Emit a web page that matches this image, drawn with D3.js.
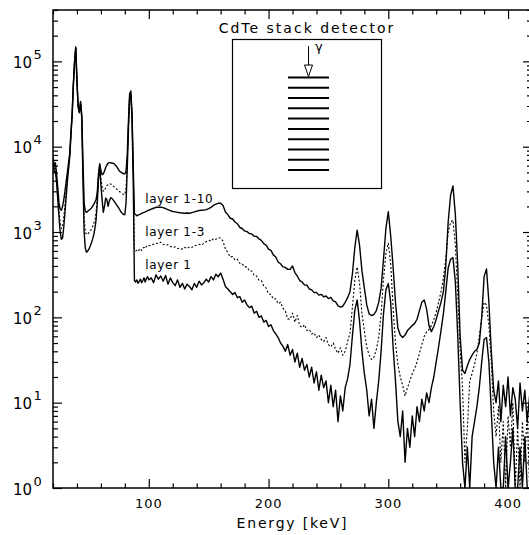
<!DOCTYPE html>
<html>
<head>
<meta charset="utf-8">
<script src="https://cdn.jsdelivr.net/npm/d3@7"></script>
<style>
  body { margin: 0; background: #fff; }
  svg { display: block; font-family: "DejaVu Sans", sans-serif; }
</style>
</head>
<body>
<div id="box-div"></div>
<script>
// energy channels (keV)
const energyLow = [20, 21, 22, 23, 24, 25, 26, 27, 28, 29, 30, 31, 32, 33, 34, 35, 36, 37, 38, 39,
  40, 41, 42, 43, 44, 45, 46, 47, 48, 49, 50, 51, 52, 53, 54, 55, 56, 57, 58, 59,
  60, 61, 62, 63, 64, 65, 66, 67, 68, 69, 70, 71, 72, 73, 74, 75, 76, 77, 78, 79,
  80, 81, 82, 83, 84, 85, 86, 87, 88, 89, 90, 91, 92, 93, 94, 95, 96, 97, 98, 99, 100]
const energyHigh = [102, 104, 106, 108, 110, 112, 114, 116, 118, 120, 122, 124, 126, 128, 130, 132, 134, 136, 138, 140,
  142, 144, 146, 148, 150, 152, 154, 156, 158, 160, 162, 164, 166, 168, 170, 172, 174, 176, 178, 180,
  182, 184, 186, 188, 190, 192, 194, 196, 198, 200, 202, 204, 206, 208, 210, 212, 214, 216, 218, 220,
  222, 224, 226, 228, 230, 232, 234, 236, 238, 240, 242, 244, 246, 248, 250, 252, 254, 256, 258, 260,
  262, 264, 266, 268, 270, 272, 274, 276, 278, 280, 282, 284, 286, 288, 290, 292, 294, 296, 298, 300,
  302, 304, 306, 308, 310, 312, 314, 316, 318, 320, 322, 324, 326, 328, 330, 332, 334, 336, 338, 340,
  342, 344, 346, 348, 350, 352, 354, 356, 358, 360, 362, 364, 366, 368, 370, 372, 374, 376, 378, 380,
  382, 384, 386, 388, 390, 392, 394, 396, 398, 400, 402, 404, 406, 408, 410, 412, 414, 416, 418, 420]

// counts, layer 1-10
const layer1to10 = [7500, 5800, 6500, 4800, 3300, 2200, 1850, 1800, 2000, 2400,
  3000, 3900, 5000, 6500, 8500, 15000, 25000, 55000, 100000, 148000,
  60000, 30000, 26000, 34000, 24000, 7000, 2200, 1750, 1700, 1750,
  1800, 1850, 1900, 2000, 2100, 2250, 2400, 3000, 4800, 6300,
  5300, 4700, 4800, 5200, 5700, 6100, 6400, 6500, 6500, 6400,
  6400, 6300, 6100, 5900, 5600, 5300, 5100, 5000, 4900, 4800,
  4800, 5200, 8000, 20000, 42000, 45000, 25000, 6000, 1650, 1600,
  1550, 1580, 1600, 1620, 1650, 1680, 1700, 1720, 1750, 1780, 1800,
  1850, 1900, 1950, 1960, 1950, 1930, 1880, 1830, 1780, 1740,
  1720, 1700, 1680, 1670, 1660, 1670, 1660, 1690, 1720, 1750,
  1790, 1800, 1810, 1830, 1880, 1950, 2050, 2120, 2170, 2180,
  2050, 1720, 1600, 1450, 1420, 1310, 1250, 1130, 1100, 1030,
  1010, 960, 950, 890, 890, 830, 800, 730, 700, 630,
  610, 540, 510, 445, 425, 390, 385, 365, 365, 400,
  335, 305, 270, 260, 240, 238, 215, 210, 195, 196,
  182, 186, 174, 178, 166, 171, 156, 152, 136, 132,
  135, 150, 170, 200, 320, 650, 1050, 700, 350, 220,
  140, 110, 105, 108, 120, 150, 220, 480, 1100, 1730,
  900, 390, 150, 75, 62, 58, 62, 70, 75, 80,
  85, 95, 120, 150, 160, 125, 80, 68, 78, 95,
  120, 150, 200, 400, 1300, 2700, 3470, 1600, 400, 60,
  24, 22, 27, 32, 36, 40, 42, 50, 100, 300,
  370, 150, 40, 14, 10, 18, 6, 16, 9, 20,
  7, 15, 11, 5, 17, 8, 14, 6, 12, 9]

// counts, layer 1-3
const layer1to3 = [7000, 5500, 5800, 4200, 2800, 1800, 1300, 1100, 1150, 1500,
  2100, 3000, 4300, 5900, 8000, 14000, 24000, 54000, 98000, 146000,
  59000, 29500, 25500, 33000, 23000, 5000, 1500, 1000, 930, 950,
  980, 1020, 1080, 1150, 1250, 1400, 1700, 2500, 4500, 6100,
  4200, 3400, 3000, 3100, 3300, 3500, 3600, 3700, 3650, 3600,
  3500, 3400, 3300, 3200, 3100, 3000, 2950, 2900, 2800, 2750,
  2750, 3300, 6500, 18000, 40000, 43000, 23000, 5000, 620, 600,
  610, 590, 620, 640, 610, 650, 660, 640, 680, 670, 690,
  700, 720, 740, 730, 760, 720, 700, 710, 680, 660,
  670, 640, 650, 630, 660, 640, 670, 660, 690, 700,
  720, 700, 740, 770, 800, 780, 840, 820, 860, 850,
  780, 630, 575, 510, 515, 470, 480, 430, 425, 390,
  390, 350, 350, 310, 305, 272, 270, 232, 220, 188,
  185, 164, 165, 144, 150, 128, 118, 96, 95, 112,
  88, 105, 80, 76, 82, 70, 72, 64, 66, 58,
  62, 55, 52, 58, 48, 45, 50, 42, 38, 44,
  36, 40, 52, 65, 130, 270, 390, 250, 110, 70,
  45, 36, 32, 34, 42, 58, 110, 280, 560, 740,
  420, 130, 50, 28, 20, 16, 12, 15, 18, 22,
  25, 30, 38, 48, 60, 68, 72, 80, 95, 115,
  150, 200, 290, 480, 1000, 1300, 1380, 700, 180, 40,
  15, 2, 5, 18, 22, 28, 38, 60, 100, 150,
  140, 80, 30, 8, 4, 9, 2, 6, 0, 7,
  3, 10, 1, 5, 0, 6, 2, 8, 0, 4]

// counts, layer 1
const layer1 = [6500, 5000, 5200, 3800, 2400, 1500, 1000, 820, 850, 1150,
  1700, 2600, 3900, 5500, 7600, 13500, 23000, 52000, 95000, 143000,
  58000, 29000, 25000, 32000, 22000, 4200, 1000, 640, 580, 600,
  630, 680, 740, 820, 920, 1100, 1400, 2200, 4200, 6000,
  3600, 2400, 1700, 2000, 2500, 2400, 2000, 2300, 2500, 2500,
  2400, 2300, 2200, 2100, 2000, 1900, 1800, 1700, 1650, 1600,
  1600, 2200, 5500, 16000, 38000, 41000, 21000, 4000, 270, 260,
  275, 250, 265, 280, 255, 270, 290, 260, 285, 300, 275,
  290, 255, 315, 280, 305, 265, 310, 245, 290, 255,
  235, 275, 225, 250, 215, 245, 230, 210, 250, 225,
  265, 240, 255, 280, 260, 300, 275, 320, 300, 330,
  280, 230, 215, 200, 185, 195, 170, 175, 150, 160,
  140, 130, 135, 112, 118, 100, 104, 88, 92, 78,
  82, 70, 64, 58, 50, 46, 40, 48, 36, 42,
  30, 38, 26, 33, 24, 28, 20, 26, 17, 23,
  14, 21, 15, 18, 10, 16, 9, 14, 6, 12,
  8, 15, 19, 28, 60, 120, 160, 90, 40, 22,
  14, 7, 11, 5, 10, 18, 40, 110, 210, 250,
  150, 45, 18, 6, 4, 8, 2, 5, 3, 7,
  4, 9, 6, 11, 8, 13, 10, 15, 20, 30,
  45, 70, 110, 200, 380, 480, 500, 260, 60, 10,
  2, 0, 3, 0, 4, 6, 9, 15, 30, 55,
  58, 30, 8, 2, 0, 3, 1, 0, 4, 0,
  2, 5, 0, 1, 3, 0, 4, 1, 0, 2]

const xMajor = [100, 200, 300, 400]
const xMinor = [20, 40, 60, 80, 120, 140, 160, 180, 220, 240, 260, 280, 320, 340, 360, 380, 420]
const yExponents = [0, 1, 2, 3, 4, 5]
const seriesNames = ['layer 1-10', 'layer 1-3', 'layer 1']
// label anchor: energy, counts
const labelPos = [[97, 2200], [97, 900], [97, 370]]
const stackLayers = [1, 2, 3, 4, 5, 6, 7, 8, 9, 10]

let dms = {
    width: 529,
    height: 535,
    left: 53,
    right: 532,
    top: 10,
    bottom: 488
}

const energy = energyLow.concat(energyHigh)
const series = [
    { name: seriesNames[0], values: layer1to10, dash: null },
    { name: seriesNames[1], values: layer1to3, dash: '2,2' },
    { name: seriesNames[2], values: layer1, dash: null }
]

const svg = d3.select('#box-div').append('svg')
    .attr('width', dms.width)
    .attr('height', dms.height)

const x = d3.scaleLinear().domain([20, 420]).range([dms.left, dms.right])
const y = d3.scaleLog().domain([1, 4e5]).range([dms.bottom, dms.top]).clamp(true)

svg.append('clipPath').attr('id', 'plot-clip')
    .append('rect')
    .attr('x', dms.left).attr('y', dms.top)
    .attr('width', dms.right - dms.left).attr('height', dms.bottom - dms.top)

// spectra
const line = d3.line()
    .x(d => x(d[0]))
    .y(d => y(Math.max(d[1], 0.5)))

svg.append('g').attr('clip-path', 'url(#plot-clip)')
    .selectAll('path')
    .data(series)
    .join('path')
    .attr('d', s => line(energy.map((e, i) => [e, s.values[i]])))
    .attr('fill', 'none')
    .attr('stroke', '#000')
    .attr('stroke-width', s => s.dash ? 1.1 : 1.4)
    .attr('stroke-dasharray', s => s.dash)
    .attr('stroke-linejoin', 'round')

// frame
svg.append('rect')
    .attr('x', dms.left).attr('y', dms.top)
    .attr('width', dms.right - dms.left).attr('height', dms.bottom - dms.top)
    .attr('fill', 'none').attr('stroke', '#000').attr('stroke-width', 1.5)

// y ticks
const yMinor = []
yExponents.forEach(k => {
    for (let m = 2; m <= 9; m++) {
        const v = m * Math.pow(10, k)
        if (v <= 4e5) yMinor.push(v)
    }
})
const yMajor = yExponents.map(k => Math.pow(10, k))

const tickAxis = (gen, values, size, transform) => {
    const g = svg.append('g')
        .attr('transform', transform)
        .call(gen.tickValues(values).tickSizeInner(size).tickSizeOuter(0).tickFormat(''))
    g.select('.domain').remove()
    g.selectAll('line').attr('stroke', '#000').attr('stroke-width', 1.2)
    return g
}

tickAxis(d3.axisLeft(y), yMajor, -9, `translate(${dms.left},0)`)
tickAxis(d3.axisLeft(y), yMinor, -5, `translate(${dms.left},0)`)
tickAxis(d3.axisRight(y), yMajor, -9, `translate(${dms.right},0)`)
tickAxis(d3.axisRight(y), yMinor, -5, `translate(${dms.right},0)`)
tickAxis(d3.axisBottom(x), xMajor, -9, `translate(0,${dms.bottom})`)
tickAxis(d3.axisBottom(x), xMinor, -4.5, `translate(0,${dms.bottom})`)
tickAxis(d3.axisTop(x), xMajor, -9, `translate(0,${dms.top})`)
tickAxis(d3.axisTop(x), xMinor, -4.5, `translate(0,${dms.top})`)

// y labels 10^k
const yLab = svg.append('g').selectAll('g')
    .data(yExponents)
    .join('g')
yLab.append('text')
    .attr('x', 32)
    .attr('y', k => y(Math.pow(10, k)) + 6.5)
    .attr('text-anchor', 'end')
    .attr('font-size', 15)
    .text('10')
yLab.append('text')
    .attr('x', 33.5)
    .attr('y', k => y(Math.pow(10, k)) - 2.5)
    .attr('font-size', 13)
    .text(k => k)

// x labels
svg.append('g').selectAll('text')
    .data(xMajor)
    .join('text')
    .attr('x', d => x(d))
    .attr('y', 508)
    .attr('text-anchor', 'middle')
    .attr('font-size', 13)
    .attr('letter-spacing', 1)
    .text(d => d)

svg.append('text')
    .attr('x', (dms.left + dms.right) / 2)
    .attr('y', 528)
    .attr('text-anchor', 'middle')
    .attr('font-size', 14)
    .attr('letter-spacing', 1.8)
    .text('Energy [keV]')

// series labels
svg.append('g').selectAll('text')
    .data(seriesNames)
    .join('text')
    .attr('x', (d, i) => x(labelPos[i][0]))
    .attr('y', (d, i) => y(labelPos[i][1]))
    .attr('font-size', 12)
    .attr('letter-spacing', 0.7)
    .text(d => d)

// inset: CdTe stack
const inset = svg.append('g')
inset.append('text')
    .attr('x', 307)
    .attr('y', 33)
    .attr('text-anchor', 'middle')
    .attr('font-size', 14)
    .attr('letter-spacing', 2)
    .text('CdTe stack detector')
inset.append('rect')
    .attr('x', 232.5).attr('y', 39.5)
    .attr('width', 149).attr('height', 149)
    .attr('fill', 'none').attr('stroke', '#000').attr('stroke-width', 1.2)

const layerY = d3.scalePoint().domain(stackLayers).range([77.5, 170])
inset.selectAll('line.layer')
    .data(stackLayers)
    .join('line')
    .attr('class', 'layer')
    .attr('x1', 288).attr('x2', 329)
    .attr('y1', d => layerY(d)).attr('y2', d => layerY(d))
    .attr('stroke', '#000').attr('stroke-width', 2)

inset.append('line')
    .attr('x1', 308.5).attr('x2', 308.5)
    .attr('y1', 46).attr('y2', 65)
    .attr('stroke', '#000').attr('stroke-width', 1)
inset.append('path')
    .attr('d', 'M304.5,65 L312.5,65 L308.5,76.5 Z')
    .attr('fill', '#fff').attr('stroke', '#000').attr('stroke-width', 1)
inset.append('text')
    .attr('x', 315)
    .attr('y', 51)
    .attr('font-size', 13)
    .text('γ')
</script>
</body>
</html>
